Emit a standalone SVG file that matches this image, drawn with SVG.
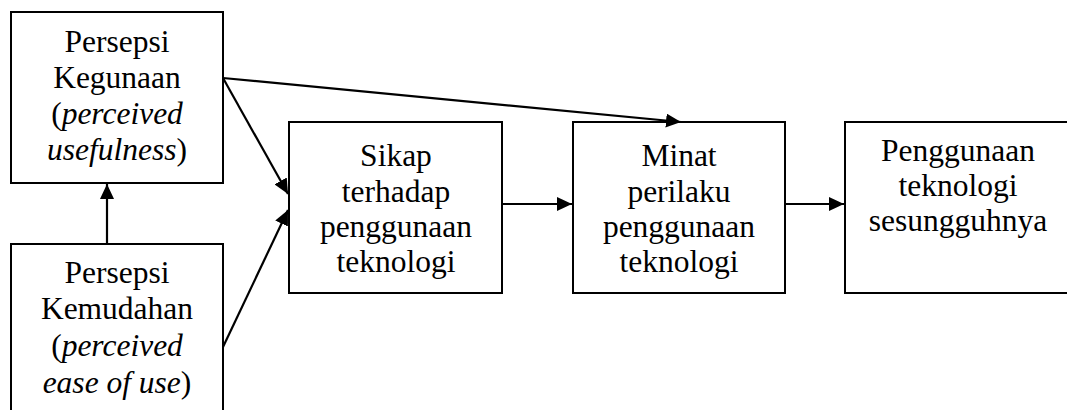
<svg xmlns="http://www.w3.org/2000/svg" width="1067" height="410" viewBox="0 0 1067 410">
<style>
.box{fill:#fff;stroke:#000;stroke-width:2}
.t{font-family:'Liberation Serif','Times New Roman',serif;font-size:31.5px;fill:#000;text-anchor:middle}
.i{font-style:italic}
.c{fill:none;stroke:#000;stroke-width:2.2;marker-end:url(#ah)}
</style>
<defs>
<marker id="ah" markerUnits="userSpaceOnUse" markerWidth="16" markerHeight="14" refX="15" refY="7" orient="auto">
<path d="M0,0 L15,7 L0,14 Z" fill="#000"/>
</marker>
</defs>
<rect width="1067" height="410" fill="#fff"/>
<g id="node-kegunaan">
<rect class="box" x="11" y="12" width="212" height="171"/>
<text class="t" x="117" y="52">Persepsi</text>
<text class="t" x="117" y="88">Kegunaan</text>
<text class="t" x="117" y="124">(<tspan class="i">perceived</tspan></text>
<text class="t" x="117" y="160"><tspan class="i">usefulness</tspan>)</text>
</g>
<g id="node-kemudahan">
<rect class="box" x="11" y="244" width="212" height="180"/>
<text class="t" x="117" y="283">Persepsi</text>
<text class="t" x="117" y="319">Kemudahan</text>
<text class="t" x="117" y="356">(<tspan class="i">perceived</tspan></text>
<text class="t" x="117" y="393"><tspan class="i">ease of use</tspan>)</text>
</g>
<g id="node-sikap">
<rect class="box" x="289" y="122" width="213" height="171"/>
<text class="t" x="396" y="166">Sikap</text>
<text class="t" x="396" y="202">terhadap</text>
<text class="t" x="396" y="237">penggunaan</text>
<text class="t" x="396" y="272">teknologi</text>
</g>
<g id="node-minat">
<rect class="box" x="573" y="122" width="212" height="171"/>
<text class="t" x="679" y="166">Minat</text>
<text class="t" x="679" y="202">perilaku</text>
<text class="t" x="679" y="237">penggunaan</text>
<text class="t" x="679" y="272">teknologi</text>
</g>
<g id="node-penggunaan">
<rect class="box" x="845" y="122" width="226" height="171"/>
<text class="t" x="958" y="161">Penggunaan</text>
<text class="t" x="958" y="196">teknologi</text>
<text class="t" x="958" y="231">sesungguhnya</text>
</g>
<g id="connectors">
<line class="c" x1="107" y1="244" x2="107" y2="184"/>
<line class="c" x1="223" y1="78" x2="681" y2="122"/>
<line class="c" x1="223" y1="78" x2="288" y2="194"/>
<line class="c" x1="223" y1="347" x2="288" y2="210"/>
<line class="c" x1="502" y1="204" x2="572" y2="204"/>
<line class="c" x1="785" y1="204" x2="844" y2="204"/>
</g>
</svg>
